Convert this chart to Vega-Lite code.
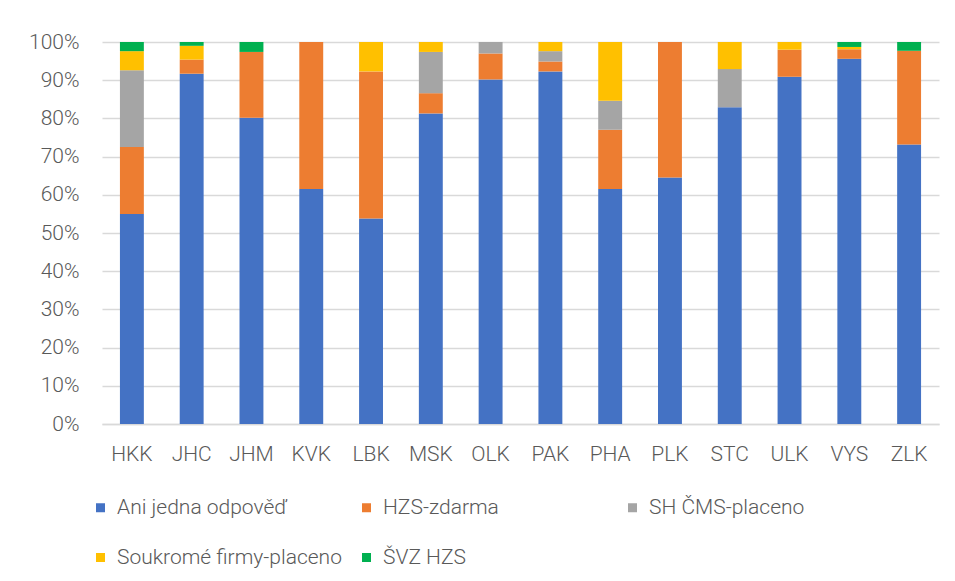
{
  "$schema": "https://vega.github.io/schema/vega-lite/v6.json",
  "width": 837,
  "height": 382,
  "padding": {"left": 28, "top": 31, "right": 11, "bottom": 5},
  "background": "white",
  "config": {
    "font": "Roboto",
    "view": {"stroke": null},
    "axis": {"labelFont": "Roboto", "labelFontSize": 21, "labelColor": "#595959", "labelFontWeight": 300},
    "legend": {"labelFont": "Roboto", "labelFontSize": 21, "labelColor": "#595959", "labelFontWeight": 300}
  },
  "data": {
    "values": [
      {"kraj": "HKK", "typ": "Ani jedna odpověď", "podil": 55.0},
      {"kraj": "HKK", "typ": "HZS-zdarma", "podil": 17.5},
      {"kraj": "HKK", "typ": "SH ČMS-placeno", "podil": 20.1},
      {"kraj": "HKK", "typ": "Soukromé firmy-placeno", "podil": 5.0},
      {"kraj": "HKK", "typ": "ŠVZ HZS", "podil": 2.4},
      {"kraj": "JHC", "typ": "Ani jedna odpověď", "podil": 91.7},
      {"kraj": "JHC", "typ": "HZS-zdarma", "podil": 3.7},
      {"kraj": "JHC", "typ": "SH ČMS-placeno", "podil": 0},
      {"kraj": "JHC", "typ": "Soukromé firmy-placeno", "podil": 3.6},
      {"kraj": "JHC", "typ": "ŠVZ HZS", "podil": 1.0},
      {"kraj": "JHM", "typ": "Ani jedna odpověď", "podil": 80.2},
      {"kraj": "JHM", "typ": "HZS-zdarma", "podil": 17.2},
      {"kraj": "JHM", "typ": "SH ČMS-placeno", "podil": 0},
      {"kraj": "JHM", "typ": "Soukromé firmy-placeno", "podil": 0},
      {"kraj": "JHM", "typ": "ŠVZ HZS", "podil": 2.6},
      {"kraj": "KVK", "typ": "Ani jedna odpověď", "podil": 61.5},
      {"kraj": "KVK", "typ": "HZS-zdarma", "podil": 38.5},
      {"kraj": "KVK", "typ": "SH ČMS-placeno", "podil": 0},
      {"kraj": "KVK", "typ": "Soukromé firmy-placeno", "podil": 0},
      {"kraj": "KVK", "typ": "ŠVZ HZS", "podil": 0},
      {"kraj": "LBK", "typ": "Ani jedna odpověď", "podil": 53.8},
      {"kraj": "LBK", "typ": "HZS-zdarma", "podil": 38.5},
      {"kraj": "LBK", "typ": "SH ČMS-placeno", "podil": 0},
      {"kraj": "LBK", "typ": "Soukromé firmy-placeno", "podil": 7.7},
      {"kraj": "LBK", "typ": "ŠVZ HZS", "podil": 0},
      {"kraj": "MSK", "typ": "Ani jedna odpověď", "podil": 81.3},
      {"kraj": "MSK", "typ": "HZS-zdarma", "podil": 5.3},
      {"kraj": "MSK", "typ": "SH ČMS-placeno", "podil": 10.8},
      {"kraj": "MSK", "typ": "Soukromé firmy-placeno", "podil": 2.6},
      {"kraj": "MSK", "typ": "ŠVZ HZS", "podil": 0},
      {"kraj": "OLK", "typ": "Ani jedna odpověď", "podil": 90.2},
      {"kraj": "OLK", "typ": "HZS-zdarma", "podil": 6.8},
      {"kraj": "OLK", "typ": "SH ČMS-placeno", "podil": 3.0},
      {"kraj": "OLK", "typ": "Soukromé firmy-placeno", "podil": 0},
      {"kraj": "OLK", "typ": "ŠVZ HZS", "podil": 0},
      {"kraj": "PAK", "typ": "Ani jedna odpověď", "podil": 92.3},
      {"kraj": "PAK", "typ": "HZS-zdarma", "podil": 2.6},
      {"kraj": "PAK", "typ": "SH ČMS-placeno", "podil": 2.7},
      {"kraj": "PAK", "typ": "Soukromé firmy-placeno", "podil": 2.4},
      {"kraj": "PAK", "typ": "ŠVZ HZS", "podil": 0},
      {"kraj": "PHA", "typ": "Ani jedna odpověď", "podil": 61.5},
      {"kraj": "PHA", "typ": "HZS-zdarma", "podil": 15.5},
      {"kraj": "PHA", "typ": "SH ČMS-placeno", "podil": 7.6},
      {"kraj": "PHA", "typ": "Soukromé firmy-placeno", "podil": 15.4},
      {"kraj": "PHA", "typ": "ŠVZ HZS", "podil": 0},
      {"kraj": "PLK", "typ": "Ani jedna odpověď", "podil": 64.5},
      {"kraj": "PLK", "typ": "HZS-zdarma", "podil": 35.5},
      {"kraj": "PLK", "typ": "SH ČMS-placeno", "podil": 0},
      {"kraj": "PLK", "typ": "Soukromé firmy-placeno", "podil": 0},
      {"kraj": "PLK", "typ": "ŠVZ HZS", "podil": 0},
      {"kraj": "STC", "typ": "Ani jedna odpověď", "podil": 82.9},
      {"kraj": "STC", "typ": "HZS-zdarma", "podil": 0},
      {"kraj": "STC", "typ": "SH ČMS-placeno", "podil": 10.0},
      {"kraj": "STC", "typ": "Soukromé firmy-placeno", "podil": 7.1},
      {"kraj": "STC", "typ": "ŠVZ HZS", "podil": 0},
      {"kraj": "ULK", "typ": "Ani jedna odpověď", "podil": 90.9},
      {"kraj": "ULK", "typ": "HZS-zdarma", "podil": 7.1},
      {"kraj": "ULK", "typ": "SH ČMS-placeno", "podil": 0},
      {"kraj": "ULK", "typ": "Soukromé firmy-placeno", "podil": 2.0},
      {"kraj": "ULK", "typ": "ŠVZ HZS", "podil": 0},
      {"kraj": "VYS", "typ": "Ani jedna odpověď", "podil": 95.6},
      {"kraj": "VYS", "typ": "HZS-zdarma", "podil": 2.5},
      {"kraj": "VYS", "typ": "SH ČMS-placeno", "podil": 0},
      {"kraj": "VYS", "typ": "Soukromé firmy-placeno", "podil": 0.6},
      {"kraj": "VYS", "typ": "ŠVZ HZS", "podil": 1.3},
      {"kraj": "ZLK", "typ": "Ani jedna odpověď", "podil": 73.2},
      {"kraj": "ZLK", "typ": "HZS-zdarma", "podil": 24.5},
      {"kraj": "ZLK", "typ": "SH ČMS-placeno", "podil": 0},
      {"kraj": "ZLK", "typ": "Soukromé firmy-placeno", "podil": 0},
      {"kraj": "ZLK", "typ": "ŠVZ HZS", "podil": 2.3}
    ]
  },
  "mark": {"type": "bar"},
  "encoding": {
    "x": {
      "field": "kraj",
      "type": "nominal",
      "sort": null,
      "scale": {"paddingInner": 0.6, "paddingOuter": 0.3},
      "axis": {"title": null, "labelAngle": 0, "domainColor": "#d9d9d9", "domainWidth": 1.5, "ticks": false, "labelPadding": 19}
    },
    "y": {
      "field": "podil",
      "type": "quantitative",
      "stack": "normalize",
      "scale": {"domain": [0, 1]},
      "axis": {
        "title": null,
        "format": ".0%",
        "values": [0, 0.1, 0.2, 0.3, 0.4, 0.5, 0.6, 0.7, 0.8, 0.9, 1],
        "domain": false,
        "ticks": false,
        "gridColor": "#d9d9d9",
        "gridWidth": 1.5,
        "labelPadding": 23
      }
    },
    "color": {
      "field": "typ",
      "type": "nominal",
      "scale": {
        "domain": ["Ani jedna odpověď", "HZS-zdarma", "SH ČMS-placeno", "Soukromé firmy-placeno", "ŠVZ HZS"],
        "range": ["#4472C4", "#ED7D31", "#A5A5A5", "#FFC000", "#00B050"]
      },
      "legend": {
        "title": null,
        "orient": "none",
        "legendX": -12,
        "legendY": 455,
        "direction": "horizontal",
        "columns": 3,
        "gridAlign": "all",
        "labelLimit": 400,
        "symbolType": "square",
        "symbolSize": 81,
        "symbolStrokeWidth": 0,
        "columnPadding": 14,
        "rowPadding": 28,
        "labelOffset": 6
      }
    },
    "order": {"field": "typ", "sort": "ascending"}
  }
}
